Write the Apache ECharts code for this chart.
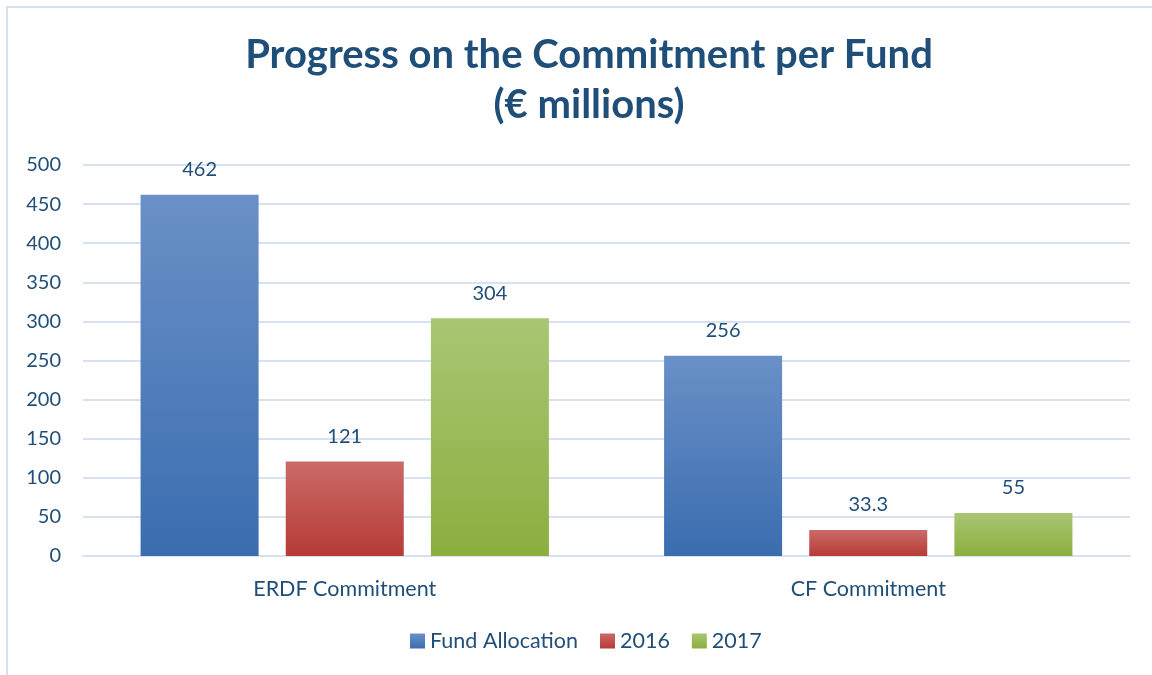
<html>
<head>
<meta charset="UTF-8">
<script src="https://cdn.jsdelivr.net/npm/echarts@6/dist/echarts.min.js"></script>
</head>
<body style="margin:0;background:#fff">
<div id="chart" style="width:1152px;height:675px"></div>
<script>
var categories = ['ERDF Commitment', 'CF Commitment'];
var fundAllocation = [462, 256];
var data2016 = [121, 33.3];
var data2017 = [304, 55];
var yTicks = [0, 50, 100, 150, 200, 250, 300, 350, 400, 450, 500];

var textColor = '#1f4e79';
var fontName = 'Lato';

function grad(top, bottom) {
	return new echarts.graphic.LinearGradient(0, 0, 0, 1, [
		{offset: 0, color: top}, {offset: 1, color: bottom}
	]);
}

function barSeries(name, data, top, bottom) {
	return {
		name: name,
		type: 'bar',
		data: data,
		barGap: '23%',
		barCategoryGap: '22%',
		itemStyle: {color: grad(top, bottom)},
		label: {
			show: true, position: 'top', distance: 15,
			color: textColor, fontSize: 20, fontFamily: fontName
		}
	};
}

var chart = echarts.init(document.getElementById('chart'));
chart.setOption({
	backgroundColor: '#fff',
	animation: false,
	graphic: [{
		type: 'rect', shape: {x: 7, y: 7, width: 1200, height: 720},
		style: {fill: 'none', stroke: '#d6e2f2', lineWidth: 2}, silent: true
	}],
	title: {
		text: 'Progress on the Commitment per Fund\n(€ millions)',
		left: 584, top: 25,
		textAlign: 'center',
		textStyle: {color: textColor, fontSize: 40, fontWeight: 'bold', fontFamily: fontName, lineHeight: 50}
	},
	legend: {
		bottom: 18, left: 405, itemWidth: 15, itemHeight: 15, itemGap: 22,
		icon: 'rect',
		textStyle: {color: textColor, fontSize: 21.5, fontFamily: fontName}
	},
	grid: {left: 83, right: 22, top: 165, bottom: 119, containLabel: false},
	xAxis: {
		type: 'category', data: categories,
		axisLine: {lineStyle: {color: '#d6e2f2', width: 2}},
		axisTick: {show: false},
		axisLabel: {color: textColor, fontSize: 21.5, fontFamily: fontName, margin: 22}
	},
	yAxis: {
		type: 'value', min: yTicks[0], max: yTicks[yTicks.length - 1], interval: 50,
		axisLine: {show: false}, axisTick: {show: false},
		splitLine: {lineStyle: {color: '#d6e2f2', width: 2}},
		axisLabel: {color: textColor, fontSize: 20, fontFamily: fontName, margin: 22}
	},
	series: [
		barSeries('Fund Allocation', fundAllocation, '#6a90c7', '#3a6daf'),
		barSeries('2016', data2016, '#ca6b69', '#b73a35'),
		barSeries('2017', data2017, '#a9c673', '#8bae3f')
	]
});
</script>
</body>
</html>
